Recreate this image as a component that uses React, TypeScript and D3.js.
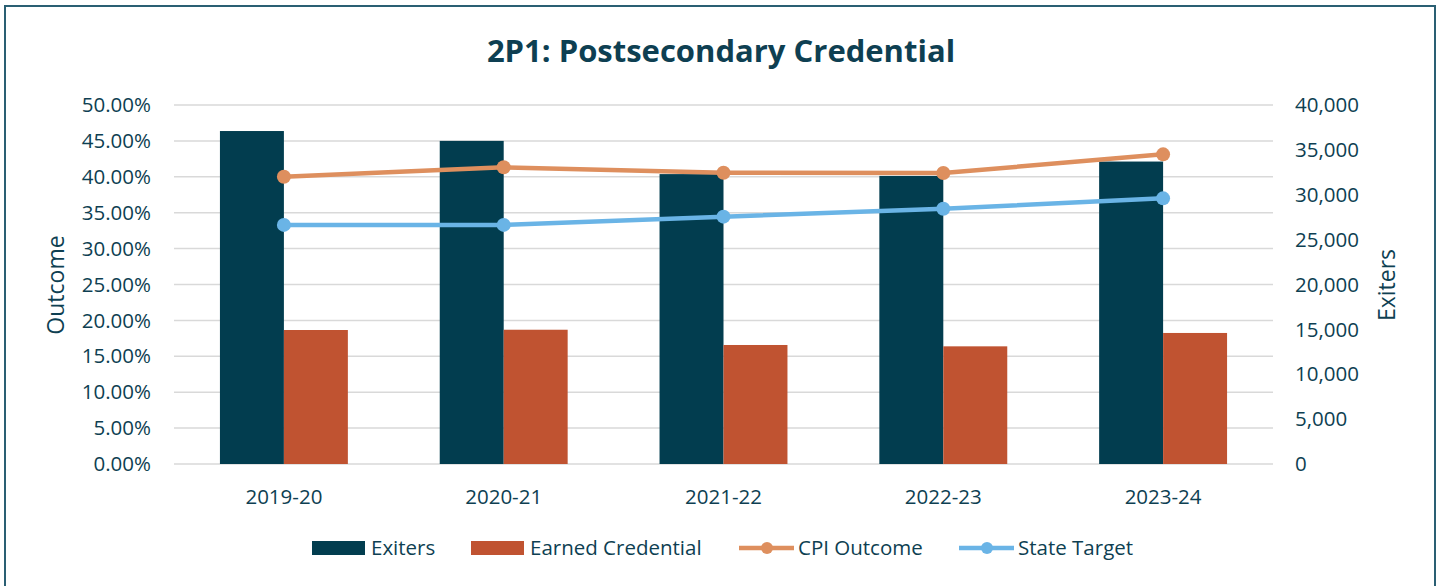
import React, { useEffect, useRef } from "react"
import * as d3 from "d3"

const years = ["2019-20", "2020-21", "2021-22", "2022-23", "2023-24"]
const exiters = [37100, 36000, 32300, 32100, 33700]
const earnedCredential = [14930, 14960, 13260, 13110, 14600]
const cpiOutcome = [0.4, 0.4132, 0.4057, 0.4053, 0.4313]
const stateTarget = [0.333, 0.333, 0.3445, 0.3556, 0.37]
const pctTicks = [0, 0.05, 0.1, 0.15, 0.2, 0.25, 0.3, 0.35, 0.4, 0.45, 0.5]
const countTicks = [0, 5000, 10000, 15000, 20000, 25000, 30000, 35000, 40000]

const W = 1440
const H = 586
const FONT = "'Open Sans', sans-serif"
const TXT = "#0e3f52"

const colors = {
    exiters: "#023d4f",
    earned: "#c05331",
    cpi: "#de8f5e",
    target: "#6ab4e6",
}

export default function App() {
    const svgRef = useRef(null)

    useEffect(() => {
        const svg = d3.select(svgRef.current)
        svg.selectAll("*").remove()

        const left = 174, right = 1273, top = 105, bottom = 464

        const x = d3.scaleBand().domain(years).range([left, right])
            .paddingInner(0.418).paddingOuter(0.209)
        const xInner = d3.scaleBand().domain(["exiters", "earned"]).range([0, x.bandwidth()])
        const yPct = d3.scaleLinear().domain([0, 0.5]).range([bottom, top])
        const yCount = d3.scaleLinear().domain([0, 40000]).range([bottom, top])

        // frame
        svg.append("rect")
            .attr("x", 5).attr("y", 6)
            .attr("width", 1430).attr("height", 600)
            .attr("fill", "white")
            .attr("stroke", "#2a5f73").attr("stroke-width", 2)

        svg.append("text")
            .attr("x", 721).attr("y", 62)
            .attr("text-anchor", "middle")
            .style("font-family", FONT).style("font-weight", 700).style("font-size", "31px")
            .attr("fill", TXT)
            .text("2P1: Postsecondary Credential")

        // grid
        svg.append("g").selectAll("line").data(pctTicks).join("line")
            .attr("x1", left).attr("x2", right)
            .attr("y1", d => yPct(d)).attr("y2", d => yPct(d))
            .attr("stroke", "#d9d9d9").attr("stroke-width", 1.5)

        const fmtPct = d3.format(".2%")
        svg.append("g").selectAll("text").data(pctTicks).join("text")
            .attr("x", 151).attr("y", d => yPct(d))
            .attr("dy", "0.35em").attr("text-anchor", "end")
            .style("font-family", FONT).style("font-size", "20.5px")
            .attr("fill", TXT)
            .text(d => fmtPct(d))

        const fmtCount = d3.format(",")
        svg.append("g").selectAll("text").data(countTicks).join("text")
            .attr("x", 1295).attr("y", d => yCount(d))
            .attr("dy", "0.35em").attr("text-anchor", "start")
            .style("font-family", FONT).style("font-size", "20.5px")
            .attr("fill", TXT)
            .text(d => fmtCount(d))

        svg.append("text")
            .attr("transform", `translate(56,285) rotate(-90)`)
            .attr("text-anchor", "middle").attr("dy", "0.35em")
            .style("font-family", FONT).style("font-size", "23px")
            .attr("fill", TXT).text("Outcome")

        svg.append("text")
            .attr("transform", `translate(1387,285) rotate(-90)`)
            .attr("text-anchor", "middle").attr("dy", "0.35em")
            .style("font-family", FONT).style("font-size", "23px")
            .attr("fill", TXT).text("Exiters")

        // bars
        const bars = svg.append("g")
        bars.selectAll("rect.ex").data(years).join("rect")
            .attr("class", "ex")
            .attr("x", d => x(d) + xInner("exiters"))
            .attr("width", xInner.bandwidth())
            .attr("y", (d, i) => yCount(exiters[i]))
            .attr("height", (d, i) => bottom - yCount(exiters[i]))
            .attr("fill", colors.exiters)
        bars.selectAll("rect.ea").data(years).join("rect")
            .attr("class", "ea")
            .attr("x", d => x(d) + xInner("earned"))
            .attr("width", xInner.bandwidth())
            .attr("y", (d, i) => yCount(earnedCredential[i]))
            .attr("height", (d, i) => bottom - yCount(earnedCredential[i]))
            .attr("fill", colors.earned)

        svg.append("g").selectAll("text").data(years).join("text")
            .attr("x", d => x(d) + x.bandwidth() / 2)
            .attr("y", 497)
            .attr("dy", "0.35em").attr("text-anchor", "middle")
            .style("font-family", FONT).style("font-size", "20.5px")
            .attr("fill", TXT).text(d => d)

        // lines
        const cx = d => x(d) + x.bandwidth() / 2
        const drawLine = (vals, color) => {
            const line = d3.line().x((d, i) => cx(years[i])).y(d => yPct(d))
            const g = svg.append("g")
            g.append("path").datum(vals)
                .attr("d", line).attr("fill", "none")
                .attr("stroke", color).attr("stroke-width", 4.5)
                .attr("stroke-linejoin", "round")
            g.selectAll("circle").data(vals).join("circle")
                .attr("cx", (d, i) => cx(years[i])).attr("cy", d => yPct(d))
                .attr("r", 7).attr("fill", color)
        }
        drawLine(cpiOutcome, colors.cpi)
        drawLine(stateTarget, colors.target)

        // legend
        const ly = 548
        const legend = svg.append("g")
            .style("font-family", FONT).style("font-size", "20.5px")
        const items = [
            { name: "Exiters", kind: "bar", color: colors.exiters, x: 312 },
            { name: "Earned Credential", kind: "bar", color: colors.earned, x: 471 },
            { name: "CPI Outcome", kind: "line", color: colors.cpi, x: 739 },
            { name: "State Target", kind: "line", color: colors.target, x: 959 },
        ]
        items.forEach(it => {
            if (it.kind === "bar") {
                legend.append("rect").attr("x", it.x).attr("y", ly - 7)
                    .attr("width", 53).attr("height", 14).attr("fill", it.color)
            } else {
                legend.append("line").attr("x1", it.x).attr("x2", it.x + 55)
                    .attr("y1", ly).attr("y2", ly)
                    .attr("stroke", it.color).attr("stroke-width", 4.5)
                legend.append("circle").attr("cx", it.x + 28).attr("cy", ly)
                    .attr("r", 6).attr("fill", it.color)
            }
            legend.append("text").attr("x", it.x + 59).attr("y", ly)
                .attr("dy", "0.35em").attr("fill", TXT).text(it.name)
        })
    }, [])

    return (
        <svg ref={svgRef} width={W} height={H}
            style={{ position: "absolute", left: 0, top: 0, background: "white" }} />
    )
}
